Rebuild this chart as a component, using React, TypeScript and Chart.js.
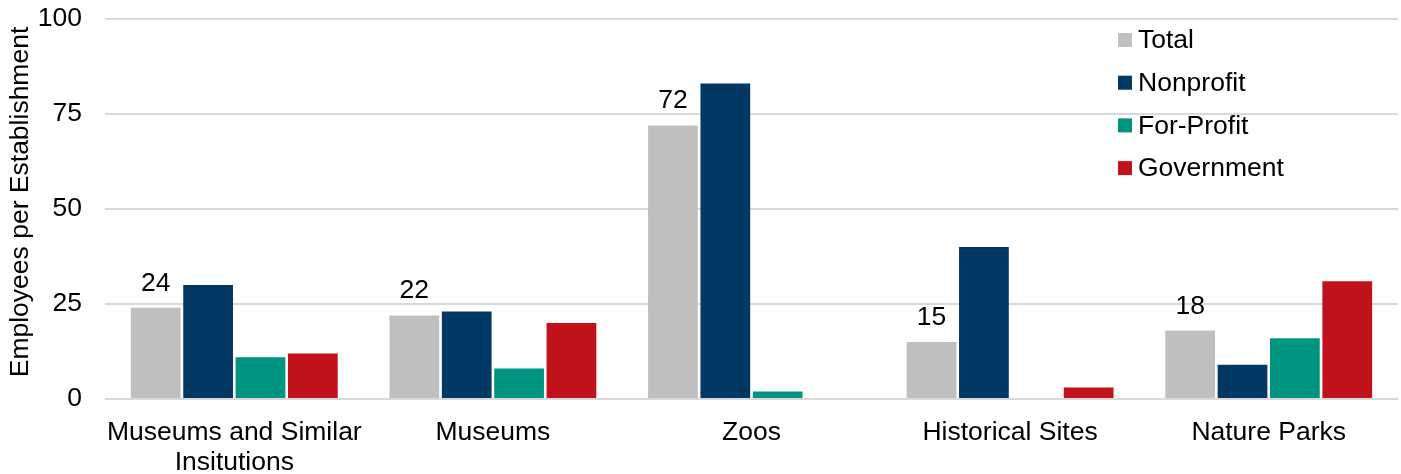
import React, { useEffect, useRef } from "react";
import { Chart, registerables } from "chart.js";

Chart.register(...registerables);

const categories: (string | string[])[] = [
  ["Museums and Similar", "Insitutions"],
  "Museums",
  "Zoos",
  "Historical Sites",
  "Nature Parks",
];
const seriesNames = ["Total", "Nonprofit", "For-Profit", "Government"];
const totalValues = [24, 22, 72, 15, 18];
const nonprofitValues = [30, 23, 83, 40, 9];
const forProfitValues = [11, 8, 2, 0, 16];
const governmentValues = [12, 20, 0, 3, 31];
const yTicks = [0, 25, 50, 75, 100];
const yTitle = "Employees per Establishment";

const colors = ["#bfbfbf", "#023864", "#009580", "#c0121a"];
const FONT = "'Liberation Sans', Arial, sans-serif";
const FS = 26.5;

const labelPlugin = {
  id: "totalLabels",
  afterDatasetsDraw(chart: any) {
    const ctx = chart.ctx;
    const meta = chart.getDatasetMeta(0);
    ctx.save();
    ctx.font = `${FS}px ${FONT}`;
    ctx.fillStyle = "#000";
    ctx.textAlign = "center";
    ctx.textBaseline = "alphabetic";
    meta.data.forEach((bar: any, i: number) => {
      ctx.fillText(String(totalValues[i]), bar.x, bar.y - 17);
    });
    ctx.restore();
  },
};

const titlePlugin = {
  id: "yTitle",
  afterDraw(chart: any) {
    const ctx = chart.ctx;
    const area = chart.chartArea;
    ctx.save();
    ctx.font = `${FS}px ${FONT}`;
    ctx.fillStyle = "#000";
    ctx.textAlign = "center";
    ctx.textBaseline = "alphabetic";
    ctx.translate(28, (area.top + area.bottom) / 2 - 7);
    ctx.rotate(-Math.PI / 2);
    ctx.fillText(yTitle, 0, 0);
    ctx.restore();
  },
};

const legendPlugin = {
  id: "customLegend",
  afterDraw(chart: any) {
    const ctx = chart.ctx;
    ctx.save();
    ctx.font = `${FS}px ${FONT}`;
    ctx.textBaseline = "middle";
    ctx.textAlign = "left";
    const x0 = 1118;
    const y0 = 40;
    const step = 42.7;
    chart.data.datasets.forEach((ds: any, i: number) => {
      const cy = y0 + i * step;
      ctx.fillStyle = ds.backgroundColor;
      ctx.fillRect(x0, cy - 7, 14, 14);
      ctx.fillStyle = "#000";
      ctx.fillText(ds.label, x0 + 20, cy + 1);
    });
    ctx.restore();
  },
};

export default function App() {
  const ref = useRef<HTMLCanvasElement>(null);
  useEffect(() => {
    document.body.style.margin = "0";
    const values = [totalValues, nonprofitValues, forProfitValues, governmentValues];
    const chart = new Chart(ref.current as HTMLCanvasElement, {
      type: "bar",
      data: {
        labels: categories,
        datasets: seriesNames.map((name, i) => ({
          label: name,
          data: values[i],
          backgroundColor: colors[i],
          borderWidth: 0,
          categoryPercentage: 0.81,
          barPercentage: 0.95,
        })),
      },
      options: {
        responsive: false,
        animation: false,
        layout: { padding: { top: 19, right: 3, bottom: 0, left: 0 } },
        plugins: {
          legend: { display: false },
          tooltip: { enabled: false },
        },
        scales: {
          x: {
            grid: { display: false },
            border: { display: false },
            ticks: {
              color: "#000",
              font: { family: FONT, size: FS, lineHeight: 1.15 },
              padding: 10,
              maxRotation: 0,
              autoSkip: false,
            },
            afterFit(scale: any) {
              scale.height = 75;
              scale.paddingLeft = 0;
              scale.paddingRight = 0;
            },
          },
          y: {
            min: 0,
            max: 100,
            afterBuildTicks(scale: any) {
              scale.ticks = yTicks.map((v) => ({ value: v }));
            },
            grid: { color: "#d9d9d9", lineWidth: 2, drawTicks: false },
            border: { display: false },
            ticks: {
              color: "#000",
              font: { family: FONT, size: FS },
              padding: 23,
            },
            title: { display: false },
            afterFit(scale: any) {
              scale.width = 105;
              scale.paddingTop = 0;
              scale.paddingBottom = 0;
            },
          },
        },
      },
      plugins: [labelPlugin, titlePlugin, legendPlugin],
    });
    return () => chart.destroy();
  }, []);
  return <canvas ref={ref} width={1401} height={474} style={{ display: "block" }} />;
}
